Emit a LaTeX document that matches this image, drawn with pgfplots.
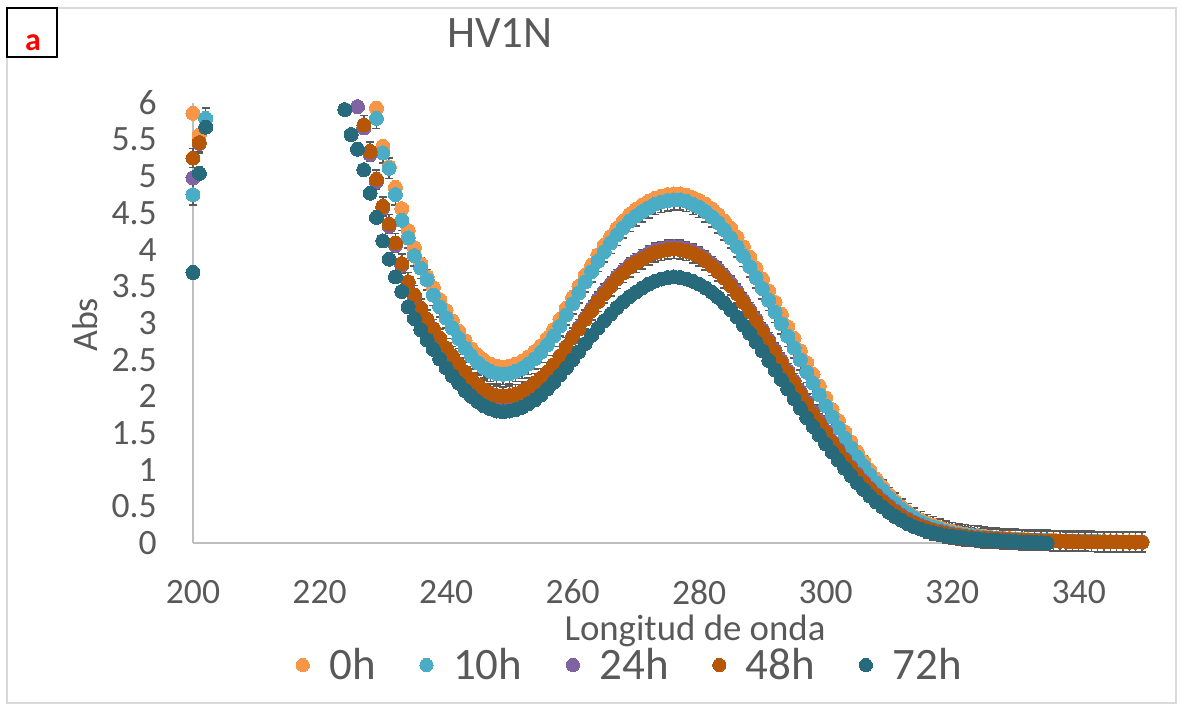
\documentclass[border=0pt]{standalone}
\usepackage{fontspec}
\setmainfont{Carlito}
\usepackage{pgfplots}
\usepackage{pgfplotstable}
\pgfplotsset{compat=1.18}
\definecolor{txt}{HTML}{595959}
\definecolor{axisgray}{HTML}{BFBFBF}
\definecolor{framegray}{HTML}{D9D9D9}
\definecolor{ebgray}{HTML}{595959}
\definecolor{cA}{HTML}{F79646}
\definecolor{cB}{HTML}{4BACC6}
\definecolor{cC}{HTML}{8064A2}
\definecolor{cD}{HTML}{B65708}
\definecolor{cE}{HTML}{276A7C}

\pgfplotstableread{
x O B P W T
200 5.86 4.75 4.98 5.25 3.69
201 5.56 5.45 5.45 5.46 5.04
202 nan 5.79 nan nan 5.67
224 nan nan nan nan 5.91
225 nan nan nan nan 5.57
226 nan nan 5.95 nan 5.37
227 nan nan 5.66 5.70 5.09
228 nan nan 5.30 5.34 4.77
229 5.93 5.79 4.93 4.96 4.44
230 5.41 5.32 4.57 4.59 4.12
231 5.13 5.11 4.32 4.35 3.87
232 4.85 4.75 4.06 4.09 3.63
233 4.56 4.40 3.79 3.81 3.43
234 4.26 4.16 3.54 3.56 3.22
235 4.03 3.92 3.36 3.38 3.06
236 3.81 3.75 3.18 3.20 2.91
237 3.63 3.59 3.03 3.05 2.77
238 3.48 3.38 2.90 2.92 2.64
239 3.32 3.22 2.77 2.79 2.51
240 3.17 3.07 2.64 2.66 2.39
241 3.03 2.93 2.53 2.55 2.28
242 2.89 2.79 2.42 2.44 2.18
243 2.76 2.66 2.31 2.33 2.08
244 2.65 2.55 2.22 2.24 2.00
245 2.56 2.46 2.14 2.16 1.93
246 2.49 2.39 2.07 2.09 1.87
247 2.44 2.34 2.02 2.04 1.83
248 2.41 2.31 1.99 2.01 1.80
249 2.40 2.30 1.98 2.00 1.79
250 2.41 2.31 1.99 2.01 1.80
251 2.44 2.34 2.01 2.03 1.82
252 2.48 2.38 2.05 2.07 1.85
253 2.54 2.44 2.10 2.12 1.90
254 2.61 2.51 2.16 2.18 1.95
255 2.69 2.60 2.24 2.25 2.02
256 2.79 2.70 2.32 2.33 2.10
257 2.91 2.82 2.43 2.43 2.19
258 3.05 2.96 2.55 2.55 2.29
259 3.20 3.11 2.68 2.67 2.39
260 3.35 3.26 2.81 2.80 2.50
261 3.50 3.41 2.94 2.92 2.61
262 3.65 3.56 3.07 3.05 2.72
263 3.79 3.70 3.20 3.17 2.83
264 3.93 3.84 3.32 3.29 2.93
265 4.06 3.97 3.43 3.40 3.03
266 4.18 4.09 3.53 3.50 3.12
267 4.29 4.20 3.63 3.60 3.21
268 4.39 4.30 3.71 3.68 3.29
269 4.48 4.39 3.79 3.76 3.36
270 4.55 4.46 3.85 3.82 3.42
271 4.61 4.52 3.90 3.87 3.48
272 4.66 4.57 3.95 3.92 3.53
273 4.70 4.62 3.99 3.96 3.57
274 4.73 4.65 4.01 3.98 3.60
275 4.75 4.67 4.03 4.00 3.62
276 4.76 4.68 4.04 4.01 3.63
277 4.76 4.68 4.03 4.00 3.62
278 4.74 4.66 4.01 3.98 3.60
279 4.71 4.62 3.98 3.95 3.57
280 4.67 4.58 3.94 3.91 3.53
281 4.62 4.52 3.88 3.85 3.48
282 4.56 4.45 3.81 3.78 3.42
283 4.48 4.37 3.73 3.70 3.35
284 4.39 4.27 3.64 3.61 3.27
285 4.29 4.16 3.54 3.51 3.18
286 4.17 4.04 3.43 3.40 3.08
287 4.04 3.91 3.31 3.28 2.97
288 3.90 3.77 3.18 3.15 2.86
289 3.75 3.62 3.05 3.02 2.74
290 3.60 3.47 2.91 2.88 2.62
291 3.44 3.31 2.77 2.74 2.49
292 3.28 3.15 2.63 2.60 2.36
293 3.12 2.99 2.49 2.46 2.23
294 2.95 2.82 2.35 2.32 2.10
295 2.79 2.66 2.21 2.18 1.97
296 2.62 2.50 2.07 2.04 1.84
297 2.46 2.33 1.93 1.90 1.71
298 2.30 2.18 1.79 1.76 1.59
299 2.14 2.02 1.66 1.63 1.47
300 1.98 1.87 1.53 1.50 1.35
301 1.82 1.72 1.39 1.37 1.24
302 1.67 1.57 1.27 1.25 1.13
303 1.52 1.43 1.15 1.13 1.02
304 1.38 1.30 1.04 1.02 0.92
305 1.24 1.17 0.94 0.92 0.82
306 1.11 1.05 0.84 0.82 0.73
307 0.99 0.93 0.75 0.73 0.64
308 0.87 0.82 0.66 0.64 0.56
309 0.76 0.72 0.58 0.56 0.49
310 0.66 0.62 0.51 0.49 0.42
311 0.57 0.54 0.44 0.42 0.36
312 0.49 0.46 0.38 0.36 0.31
313 0.42 0.40 0.33 0.31 0.26
314 0.36 0.34 0.28 0.27 0.22
315 0.31 0.29 0.24 0.23 0.19
316 0.27 0.25 0.21 0.20 0.16
317 0.24 0.22 0.18 0.17 0.14
318 0.21 0.19 0.16 0.15 0.12
319 0.18 0.16 0.14 0.13 0.10
320 0.16 0.14 0.12 0.115 0.09
321 0.14 0.12 0.105 0.10 0.08
322 0.12 0.11 0.095 0.09 0.07
323 0.11 0.10 0.085 0.08 0.06
324 0.10 0.09 0.075 0.07 0.05
325 0.09 0.08 0.07 0.065 0.045
326 0.08 0.07 0.065 0.06 0.04
327 0.07 0.065 0.06 0.055 0.035
328 0.065 0.06 0.055 0.05 0.03
329 0.06 0.055 0.05 0.045 0.025
330 0.055 0.05 0.045 0.04 0.02
331 0.05 0.045 0.04 0.038 0.015
332 0.045 0.04 0.038 0.035 0.01
333 0.04 0.04 0.035 0.033 0.01
334 0.04 0.035 0.033 0.03 0.005
335 0.035 0.035 0.03 0.028 0.0
336 0.035 0.03 0.028 0.026 nan
337 0.03 0.03 0.026 0.024 nan
338 0.03 0.028 0.024 0.022 nan
339 0.028 0.026 0.022 0.02 nan
340 0.026 0.025 0.02 0.019 nan
341 0.025 0.024 0.019 0.018 nan
342 0.024 0.022 0.018 0.017 nan
343 0.022 0.02 0.017 0.016 nan
344 0.02 0.02 0.016 0.015 nan
345 0.02 0.018 0.015 0.014 nan
346 0.02 0.018 0.014 0.013 nan
347 0.018 0.016 0.013 0.012 nan
348 0.018 0.016 0.012 0.012 nan
349 0.016 0.015 0.012 0.011 nan
350 0.016 0.015 0.011 0.011 nan
}\spec

\pgfplotsset{
  ser/.style={only marks, mark=*, mark size=3.5pt, color=#1,
    mark options={fill=#1, draw=#1, line width=0pt}},
  eb/.style={error bars/.cd, y dir=both, y fixed=#1, error mark=|,
    error bar style={line width=0.75pt, draw=ebgray},
    error mark options={mark size=2pt, line width=0.75pt, draw=ebgray}},
}

\begin{document}
\begin{tikzpicture}
\useasboundingbox (-96.5pt,-83pt) rectangle (494.5pt,271.5pt);
\draw[draw=framegray, line width=0.75pt] (-93pt,-80pt) rectangle (491.5pt,267.5pt);
\begin{axis}[
  at={(0pt,0pt)}, anchor=south west,
  scale only axis, width=474.5pt, height=220pt,
  xmin=200, xmax=350, ymin=0, ymax=6,
  xtick={200,220,...,340}, ytick={0,0.5,...,6},
  axis x line*=bottom, axis y line*=left,
  axis line style={draw=axisgray, line width=0.75pt, -},
  major tick length=0pt,
  /pgf/number format/assume math mode=true,
  tick label style={font=\fontsize{17.8}{20}\selectfont, text=txt, inner sep=0pt},
  xticklabel style={anchor=center, yshift=-24.5pt},
  yticklabel style={anchor=east, xshift=-18pt},
  clip=false,
  title={HV1N},
  title style={at={(axis description cs:0.3235,1.1318)}, anchor=center,
    font=\fontsize{22.5}{26}\selectfont, text=txt},
  xlabel={Longitud de onda},
  xlabel style={at={(axis description cs:0.529,-0.2)}, anchor=center,
    font=\fontsize{18.4}{22}\selectfont, text=txt},
  ylabel={Abs},
  ylabel style={at={(axis description cs:-0.1138,0.4955)}, anchor=center,
    font=\fontsize{18}{22}\selectfont, text=txt},
  legend columns=5,
  legend style={at={(axis description cs:0.102,-0.2773)}, anchor=west,
    draw=none, fill=none, font=\color{txt}\fontsize{22.5}{26}\selectfont,
    nodes={inner sep=0pt},
    /tikz/every odd column/.append style={column sep=10pt},
    /tikz/every even column/.append style={column sep=22pt}},
  legend image code/.code={\draw[#1, mark size=3.3pt] plot coordinates {(0pt,0pt)};},
]
\addplot[ser=cA] table[x=x, y=O]{\spec};
\addlegendentry{0h}
\addplot[ser=cB, eb=0.14] table[x=x, y=B]{\spec};
\addlegendentry{10h}
\addplot[ser=cC] table[x=x, y=P]{\spec};
\addlegendentry{24h}
\addplot[ser=cD, eb=0.13] table[x=x, y=W]{\spec};
\addlegendentry{48h}
\addplot[ser=cE] table[x=x, y=T]{\spec};
\addlegendentry{72h}
\end{axis}
\draw[black, line width=1pt] (-93.15pt,242.85pt) rectangle (-67.85pt,267.35pt);
\node[text=red, font=\bfseries\fontsize{16}{18}\selectfont, inner sep=0pt] at (-80pt,250.25pt) {a};
\end{tikzpicture}
\end{document}
